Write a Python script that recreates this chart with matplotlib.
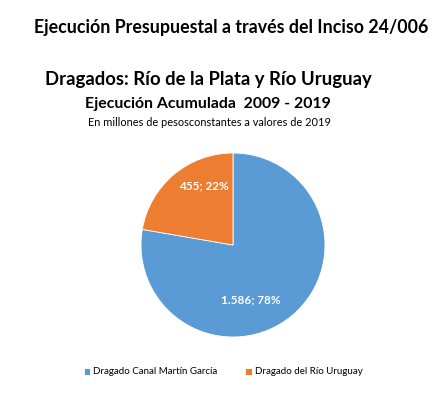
import matplotlib.pyplot as plt
import numpy as np

categorias = ["Dragado Canal Martín García", "Dragado del Río Uruguay"]
valores = [1586, 455]
etiquetas = ["1.586; 78%", "455; 22%"]
colores = ["#5B9BD5", "#ED7D31"]

plt.rcParams['font.family'] = ['Lato', 'DejaVu Sans']

fig = plt.figure(figsize=(4.4, 3.95), dpi=100)
W, H = 440, 395

fig.text(231/W, 1-27/H, "Ejecución Presupuestal a través del Inciso 24/006",
         ha="center", va="center", fontsize=12.8, fontweight="bold")
fig.text(208/W, 1-80/H, "Dragados: Río de la Plata y Río Uruguay",
         ha="center", va="center", fontsize=13.3, fontweight="bold")
fig.text(208/W, 1-104/H, "Ejecución Acumulada  2009 - 2019",
         ha="center", va="center", fontsize=11.4, fontweight="bold")
fig.text(209/W, 1-123/H, "En millones de pesosconstantes a valores de 2019",
         ha="center", va="center", fontsize=7.9)

# pie centred at (233,245) px, radius 92 px
r = 92
ax = fig.add_axes([(233-r)/W, (H-245-r)/H, 2*r/W, 2*r/H])
wedges, texts = ax.pie(valores, colors=colores, startangle=90, counterclock=False,
                       labels=etiquetas, labeldistance=0.65,
                       wedgeprops=dict(edgecolor="white", linewidth=0.6),
                       textprops=dict(color="white", fontsize=8.5, fontweight="bold"))
# Excel best-fit label placement
texts[0].set_position((0.19, -0.6))
texts[1].set_position((-0.32, 0.64))
for t in texts:
    t.set_ha("center")
    t.set_va("center")
ax.set_xlim(-1, 1)
ax.set_ylim(-1, 1)
ax.set_aspect("equal")

leg = fig.legend(wedges, categorias, loc="center", bbox_to_anchor=(223/W, 1-372/H),
                 ncol=2, frameon=False, fontsize=7, handlelength=0.7, handleheight=0.7,
                 handletextpad=0.3, columnspacing=2.8)

fig.savefig("out.png", dpi=100)
